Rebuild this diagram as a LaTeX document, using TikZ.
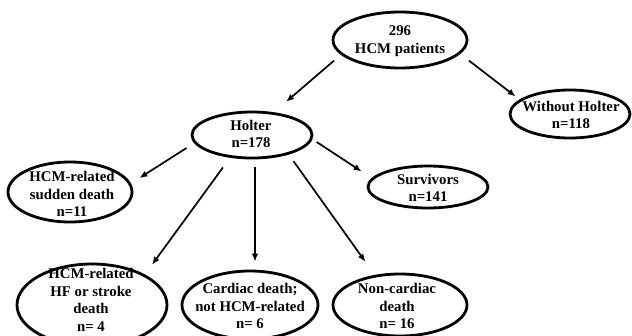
\documentclass[tikz,border=0pt]{standalone}
\usepackage{fontspec}
\setmainfont{Liberation Serif}
\usetikzlibrary{shapes.geometric,arrows.meta}

\begin{document}
\begin{tikzpicture}[x=1pt,y=-1pt,
	oval/.style={draw,ellipse,line width=2.8pt,inner sep=0pt},
	lbl/.style={align=center,inner sep=0pt,font=\fontsize{14.8}{17.5}\selectfont\bfseries},
	arr/.style={-{Latex[length=8pt,width=6.5pt]},line width=1.7pt}]

	\useasboundingbox (0,0) rectangle (632,335);

	% ovals
	\node[oval,minimum width=134,minimum height=56] (pts) at (400,40) {};
	\node[oval,minimum width=120,minimum height=48] (without) at (570,114) {};
	\node[oval,minimum width=120,minimum height=46] (holter) at (252,135) {};
	\node[oval,minimum width=124,minimum height=60] (sudden) at (70,192) {};
	\node[oval,minimum width=120,minimum height=42] (surv) at (428,187) {};
	\node[oval,minimum width=150,minimum height=82] (hf) at (92,305) {};
	\node[oval,minimum width=136,minimum height=68] (cardiac) at (250,305) {};
	\node[oval,minimum width=134,minimum height=62] (noncard) at (400,305) {};

	% texts
	\node[lbl] (ptsT) at (400,41) {296\\HCM patients};
	\node[lbl] (withoutT) at (571,115) {Without Holter\\n=118};
	\node[lbl] (holterT) at (251,134) {Holter\\n=178};
	\node[lbl] (suddenT) at (72,194) {HCM-related\\sudden death\\n=11};
	\node[lbl] (survT) at (428,188) {Survivors\\n=141};
	\node[lbl] (hfT) at (91,300) {HCM-related\\HF or stroke\\death\\n= 4};
	\node[lbl] (cardiacT) at (250,306) {Cardiac death;\\not HCM-related\\n= 6};
	\node[lbl] (noncardT) at (397,306) {Non-cardiac\\death\\n= 16};

	% arrows
	\draw[arr,shorten <=9,shorten >=16] (pts.194) -- (holter.46);
	\draw[arr,shorten <=11,shorten >=5] (pts.347) -- (without.164);
	\draw[arr,shorten <=9,shorten >=10] (holter.188) -- (sudden.8);
	\draw[arr,shorten <=12,shorten >=12] (holter.226) -- (hf.30);
	\draw[arr,shorten <=8,shorten >=8] ([xshift=3]holter.south) -- ([xshift=3]holter.south |- cardiac.north);
	\draw[arr,shorten <=8,shorten >=16] (holter.332) -- (noncard.130);
	\draw[arr,shorten <=5,shorten >=12] (holter.356) -- (surv.171);

\end{tikzpicture}
\end{document}
